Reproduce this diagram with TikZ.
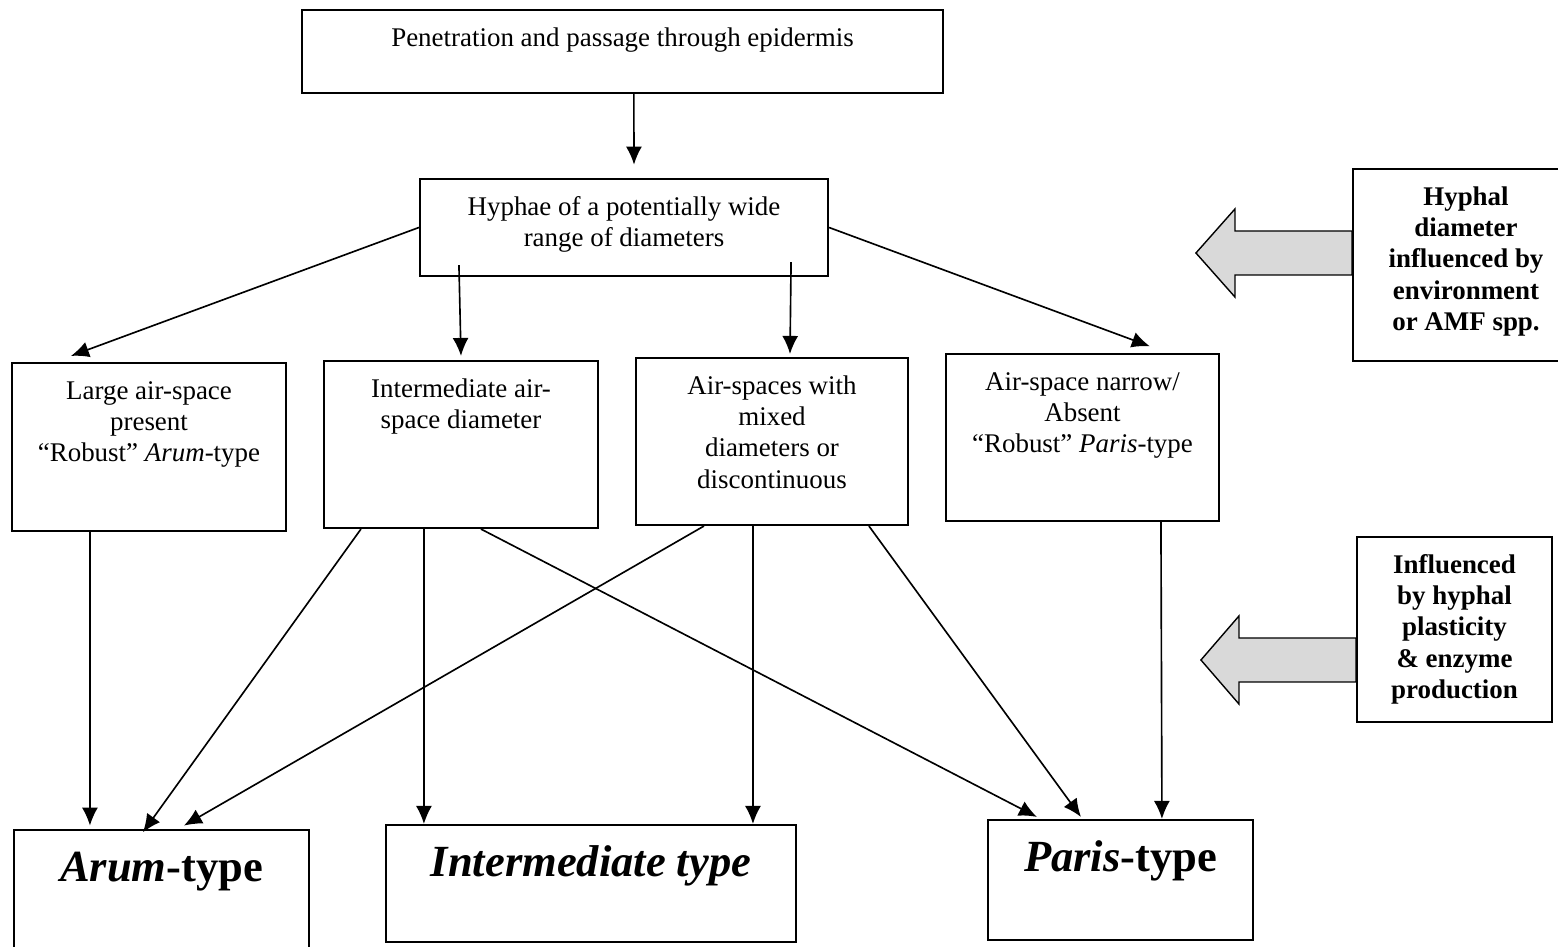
\documentclass[tikz,border=0pt]{standalone}
\usepackage{fontspec}
\setmainfont{Liberation Serif}
\usetikzlibrary{arrows.meta}

% text block, top aligned in a box of fixed size
\newcommand{\celltext}[3]{\parbox[c][#2][t]{#1}{\centering\vspace*{6pt}\strut#3}}

\begin{document}
\begin{tikzpicture}[
        x=0.015cm, y=-0.015cm,
        stagebox/.style={draw, line width=0.9pt, inner sep=0pt, font=\fontsize{11.5}{13.4}\selectfont},
        factorbox/.style={stagebox, font=\fontsize{11.5}{13.4}\selectfont\bfseries},
        typebox/.style={stagebox, font=\fontsize{19}{23}\selectfont\bfseries},
        arrow/.style={line width=0.7pt, -{Latex[length=0.27cm,width=0.24cm]}},
        fatarrow/.style={draw, line width=0.6pt, fill=black!15, line join=miter}
    ]
        \useasboundingbox (0,0) rectangle (1558,947);

        % Entry
        \node[stagebox] (pen) at (622.5,51.5) {\celltext{9.62cm}{1.245cm}{Penetration and passage through epidermis}};
        \node[stagebox] (hyph) at (624,227.5) {\celltext{6.12cm}{1.455cm}{Hyphae of a potentially wide\\range of diameters}};

        % Air-space classes
        \node[stagebox] (large) at (149,447) {\celltext{4.11cm}{2.52cm}{Large air-space\\present\\“Robust” \textit{Arum}-type}};
        \node[stagebox] (inter) at (461,444.5) {\celltext{4.11cm}{2.505cm}{Intermediate air-\\space diameter}};
        \node[stagebox] (mixed) at (772,441.5) {\celltext{4.08cm}{2.505cm}{Air-spaces with\\mixed\\diameters or\\discontinuous}};
        \node[stagebox] (narrow) at (1082.5,437.5) {\celltext{4.095cm}{2.505cm}{Air-space narrow/\\Absent\\“Robust” \textit{Paris}-type}};

        % Influences
        \node[factorbox] (diam) at (1466,265) {\celltext{3.39cm}{2.88cm}{Hyphal\\diameter\\influenced by\\environment\\or AMF spp.}};
        \node[factorbox] (plast) at (1454.5,629.5) {\celltext{2.925cm}{2.775cm}{Influenced\\by hyphal\\plasticity\\\& enzyme\\production}};

        % Colonisation types
        \node[typebox] (arumT) at (161.5,892.5) {\celltext{4.425cm}{1.875cm}{\textit{Arum}-type}};
        \node[typebox] (interT) at (591,883.5) {\celltext{6.15cm}{1.755cm}{\textit{Intermediate type}}};
        \node[typebox] (parisT) at (1120.5,880) {\celltext{3.975cm}{1.8cm}{\textit{Paris}-type}};

        % Block arrows
        \draw[fatarrow] ([yshift=0.51cm]diam.west) -- ++(-117,0) -- ++(0,-22) -- ++(-39,44) -- ++(39,44) -- ++(0,-22) -- ++(117,0) -- cycle;
        \draw[fatarrow] ([yshift=-0.1275cm]plast.west) -- ++(-117,0) -- ++(0,-22) -- ++(-38,44) -- ++(38,44) -- ++(0,-22) -- ++(117,0) -- cycle;

        % Arrows
        \draw[arrow] ([xshift=0.17cm]pen.south) -- ([xshift=0.15cm,yshift=0.2cm]hyph.north);
        \draw[arrow] (hyph.west) -- ([xshift=0.9cm,yshift=0.09cm]large.north west);
        \draw[arrow] ([xshift=0.6cm,yshift=0.18cm]hyph.south west) -- ([yshift=0.06cm]inter.north);
        \draw[arrow] ([xshift=-0.57cm,yshift=0.225cm]hyph.south east) -- ([xshift=0.27cm,yshift=0.045cm]mixed.north);
        \draw[arrow] (hyph.east) -- ([xshift=1.01cm,yshift=0.1cm]narrow.north);

        \draw[arrow] ([xshift=1.185cm]large.south west) -- ([xshift=1.155cm,yshift=0.05cm]arumT.north west);
        \draw[arrow] ([xshift=0.57cm]inter.south west) -- ([xshift=1.95cm,yshift=-0.05cm]arumT.north west);
        \draw[arrow] ([xshift=1.515cm]inter.south west) -- ([xshift=0.585cm]interT.north west);
        \draw[arrow] ([xshift=2.37cm]inter.south west) -- ([xshift=0.75cm,yshift=0.03cm]parisT.north west);
        \draw[arrow] ([xshift=1.035cm]mixed.south west) -- ([xshift=2.565cm,yshift=0.05cm]arumT.north west);
        \draw[arrow] ([xshift=1.77cm]mixed.south west) -- ([xshift=5.52cm]interT.north west);
        \draw[arrow] ([xshift=3.51cm]mixed.south west) -- ([xshift=1.41cm,yshift=0.03cm]parisT.north west);
        \draw[arrow] ([xshift=3.24cm]narrow.south west) -- ([xshift=2.625cm]parisT.north west);
    \end{tikzpicture}
\end{document}
